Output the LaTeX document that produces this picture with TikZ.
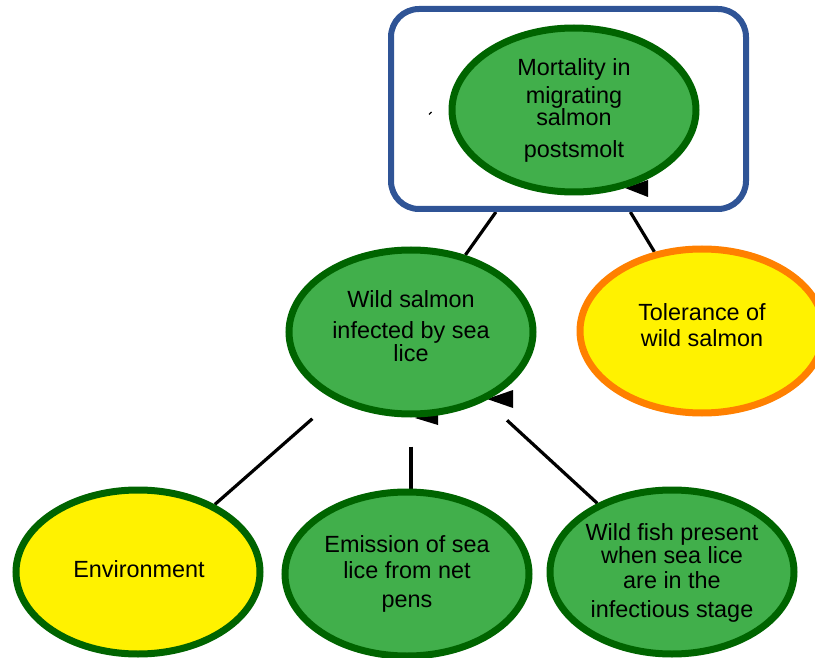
\documentclass[tikz,border=0pt]{standalone}
\usepackage{fontspec}
\setmainfont{Liberation Sans}
\usetikzlibrary{shapes.geometric,backgrounds}
\definecolor{boxblue}{RGB}{47,84,150}
\definecolor{leafgreen}{RGB}{65,175,75}
\definecolor{darkleaf}{RGB}{0,100,0}
\definecolor{sun}{RGB}{255,242,0}
\definecolor{ember}{RGB}{255,128,0}
\begin{document}
\begin{tikzpicture}[x=1pt,y=-1pt,
  bubble/.style={ellipse, minimum width=244pt, minimum height=164pt, inner sep=0pt, line width=7pt},
  greenbubble/.style={bubble, draw=darkleaf, fill=leafgreen},
  yellowbubble/.style={bubble, draw=darkleaf, fill=sun},
  orangebubble/.style={bubble, draw=ember, fill=sun},
  framebox/.style={draw=boxblue, line width=6pt, rounded corners=28pt, minimum width=355pt, minimum height=200pt, inner sep=0pt},
  txt/.style={align=center, inner sep=0pt, font=\fontsize{23.4}{26}\selectfont},
  link/.style={line width=3.2pt, black},
  tip/.style={fill=black}]
\useasboundingbox (0,0) rectangle (815,658);
\clip (0,0) rectangle (815,658);

% frame around the outcome
\node[framebox] (box) at (568.5,109) {};

% bubbles
\node[greenbubble]  (mort) at (574,110) {};
\node[greenbubble]  (ws)   at (411,332) {};
\node[orangebubble] (tol)  at (702,331) {};
\node[yellowbubble] (env)  at (138,572) {};
\node[greenbubble]  (em)   at (407,574) {};
\node[greenbubble]  (fish) at (672,572) {};

% labels
\node[txt] (mort-t) at (574,110) {Mortality in\\[2pt]migrating\\[-4pt]salmon\\[6pt]postsmolt};
\node[txt] (ws-t)   at (411,326) {Wild salmon\\[5pt]infected by sea\\[-3pt]lice};
\node[txt] (tol-t)  at (702,325) {Tolerance of\\wild salmon};
\node[txt] (env-t)  at (139,569) {Environment};
\node[txt] (em-t)   at (407,574) {Emission of sea\\lice from net\\[3pt]pens};
\node[txt] (fish-t) at (672,572.5) {Wild fish present\\[-3pt]when sea lice\\[-1pt]are in the\\[3pt]infectious stage};

% small stray mark
\draw[line width=1.2pt] (429,114.5) -- (431.5,112);

\begin{pgfonlayer}{background}
  % connectors
  \draw[link] (box) -- (ws);
  \draw[link] (box) -- (tol);
  \draw[link, shorten <=29pt] (ws) -- (env);
  \draw[link, shorten <=29pt] (ws.south) -- (ws.south |- em.north);
  \draw[link, shorten <=29pt] (ws) -- (fish);
  % arrow heads partly hidden behind the bubbles
  \fill[tip] (625,188) -- (648,180) -- (648,197) -- cycle;
  \fill[tip] (487,399) -- (513,390) -- (513,408) -- cycle;
  \fill[tip] (415,418) -- (438,410) -- (438,425) -- cycle;
\end{pgfonlayer}
\end{tikzpicture}
\end{document}
